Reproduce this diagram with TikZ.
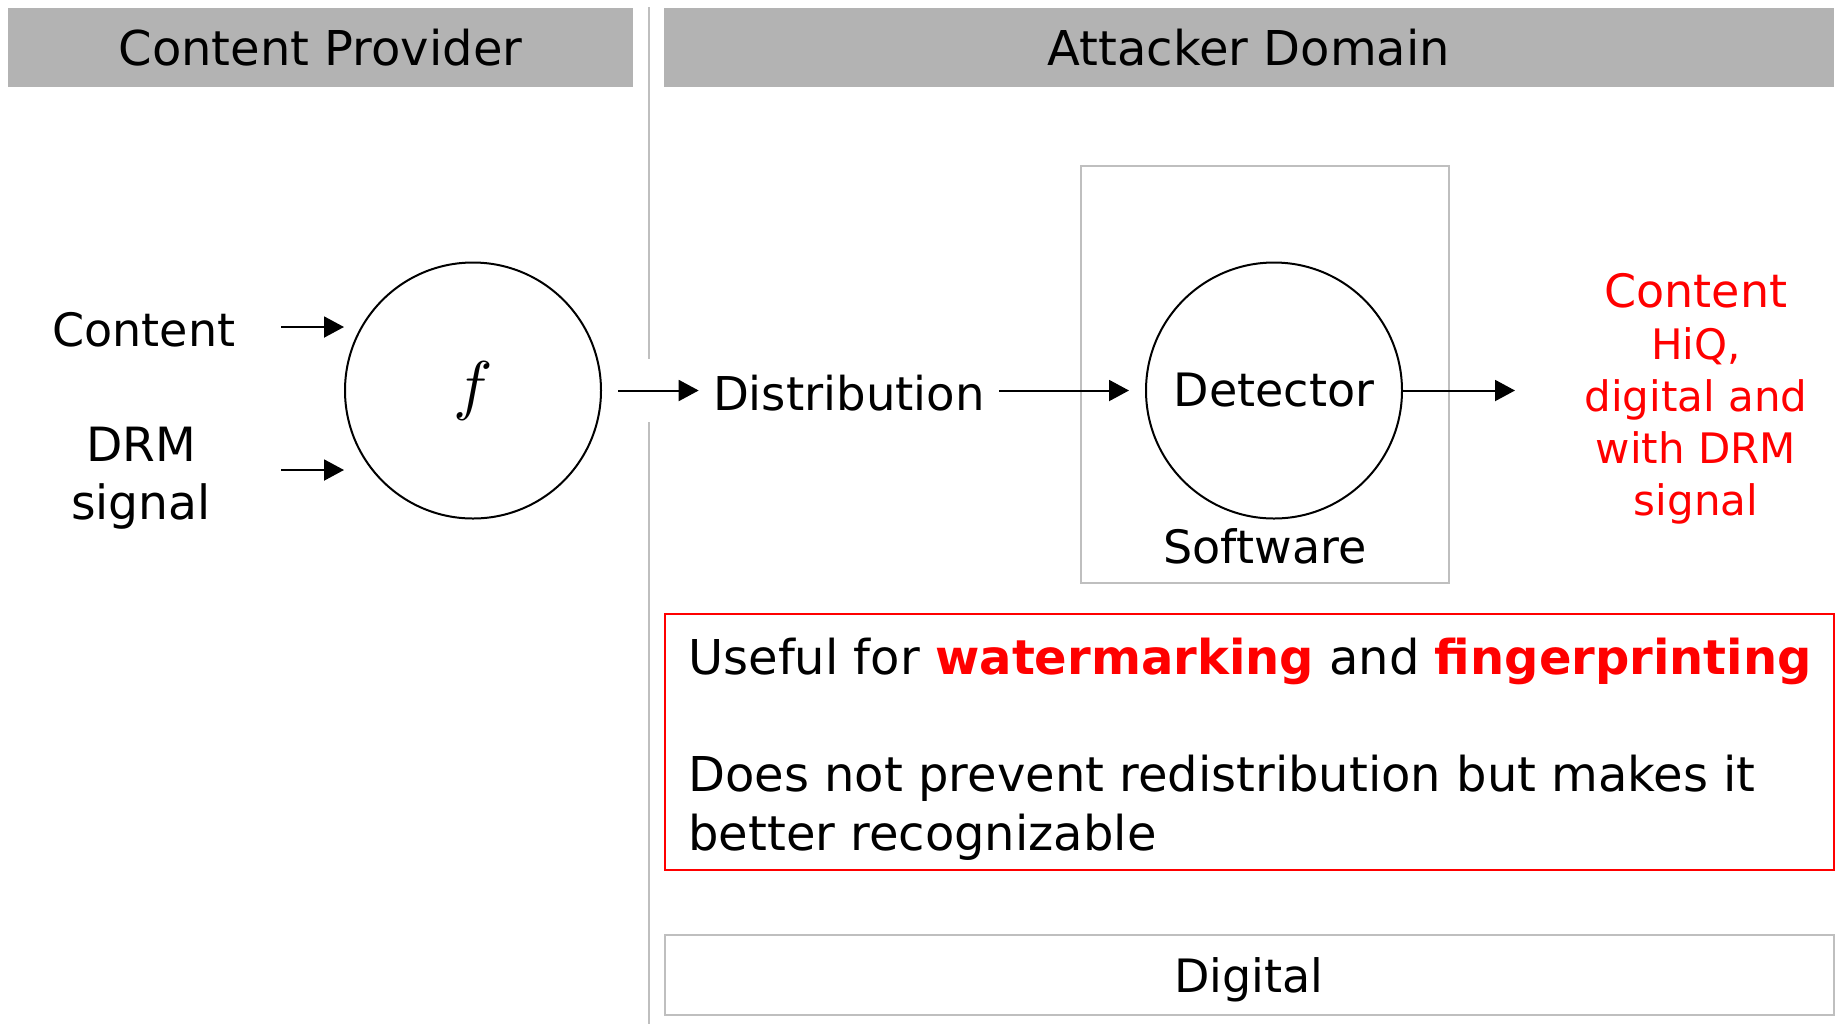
\documentclass[tikz,border=0pt]{standalone}
\usepackage{fontspec}
\usepackage{graphicx}
\setmainfont{DejaVu Sans}
\usetikzlibrary{arrows.meta}
\definecolor{hdrgray}{RGB}{179,179,179}
\definecolor{linegray}{RGB}{191,191,191}
\definecolor{alertred}{RGB}{255,0,0}

\begin{document}
\begin{tikzpicture}[x=0.5pt,y=-0.5pt,
  hdr/.style={fill=hdrgray, draw=none, inner sep=0pt, minimum height=39.5pt,
    font=\fontsize{24}{28}\selectfont},
  lbl/.style={inner sep=0pt, font=\fontsize{23}{29}\selectfont},
  notetxt/.style={inner sep=0pt, anchor=west, font=\fontsize{24}{29}\selectfont},
  proc/.style={circle, draw, line width=1pt, inner sep=0pt, minimum size=128pt},
  frame/.style={draw=linegray, line width=1pt, inner sep=0pt},
  arr/.style={line width=1pt, -{Triangle[length=10pt,width=10.5pt]}},
]
\useasboundingbox (0,0) rectangle (1837,1024);

% column headers
\node[hdr, minimum width=312.5pt] (cp) at (320.5,47.5) {Content Provider};
\node[hdr, minimum width=585pt] (ad) at (1249,47.5) {Attacker Domain};

% column divider, interrupted where the flow crosses it
\draw[linegray, line width=1.2pt] (649,7) -- (649,359);
\draw[linegray, line width=1.2pt] (649,422) -- (649,1024);

% provider side
\node[lbl] (content) at (144,330) {Content};
\node[lbl, align=center, font=\fontsize{23.6}{29}\selectfont] (drm) at (141,478) {DRM\\signal};
\node[proc] (f) at (473,390.5) {\scalebox{3.3}{$f$}};
\coordinate (c0) at (281,327);
\coordinate (c1) at (344,327);
\coordinate (d0) at (281,470);
\coordinate (d1) at (344,470);
\draw[arr] (c0) -- (c1);
\draw[arr] (d0) -- (d1);

% attacker side
\node[lbl, font=\fontsize{23.3}{29}\selectfont] (dist) at (849,393) {Distribution};
\node[frame, minimum width=184pt, minimum height=208.5pt] (sw) at (1265,374.5) {};
\node[proc, font=\fontsize{23}{29}\selectfont] (det) at (1274,390.5) {\raisebox{-2pt}{Detector}};
\node[lbl] (swl) at (1265,546) {Software};
\node[inner sep=0pt, align=center, text=alertred, font=\fontsize{21}{26}\selectfont]
  (out) at (1696,399) {{\fontsize{23}{27}\selectfont Content}\\HiQ,\\digital and\\with DRM\\signal};
\coordinate (o1) at (1515,390.5);

\draw[arr] ([xshift=8pt]f.east) -- ([xshift=-7pt]dist.west |- f.east);
\draw[arr] ([xshift=7pt]dist.east |- f.east) -- ([xshift=-8pt]det.west);
\draw[arr] (det.east) -- (o1);

% note box
\node[draw=alertred, line width=1pt, inner sep=0pt, minimum width=584.5pt, minimum height=128pt]
  (note) at (1249.5,742) {};
\node[notetxt] (n1) at (688,661)
  {Useful for \textbf{\color{alertred}watermarking} and \textbf{\color{alertred}fingerprinting}};
\node[notetxt] (n2) at (688,778) {Does not prevent redistribution but makes it};
\node[notetxt] (n3) at (688,837) {better recognizable};

% domain footer
\node[frame, minimum width=584.5pt, minimum height=40pt] (dig) at (1249.5,975) {};
\node[lbl] (digl) at (1249,980) {Digital};
\end{tikzpicture}
\end{document}
